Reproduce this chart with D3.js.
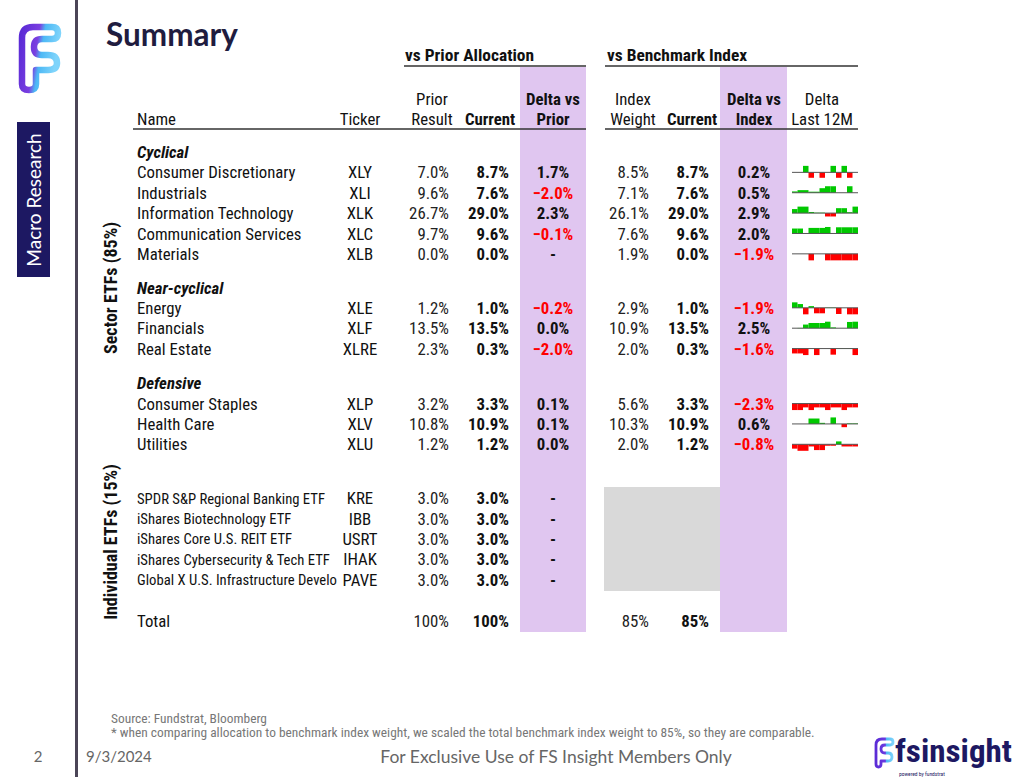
<!DOCTYPE html>
<html><head><meta charset="utf-8">
<script src="https://cdn.jsdelivr.net/npm/d3@7/dist/d3.min.js"></script>
<style>
html,body{margin:0;padding:0;background:#fff;}
svg{display:block;}
</style></head>
<body>
<svg id="chart" width="1024" height="777"></svg>
<script>
// ---------------- DATA ----------------
const groupNames = ["Cyclical", "Near-cyclical", "Defensive"];
const sectorNames = ["Consumer Discretionary","Industrials","Information Technology","Communication Services","Materials","Energy","Financials","Real Estate","Consumer Staples","Health Care","Utilities"];
const sectorTickers = ["XLY","XLI","XLK","XLC","XLB","XLE","XLF","XLRE","XLP","XLV","XLU"];
const priorResult = [7.0, 9.6, 26.7, 9.7, 0.0, 1.2, 13.5, 2.3, 3.2, 10.8, 1.2];
const currentAlloc = [8.7, 7.6, 29.0, 9.6, 0.0, 1.0, 13.5, 0.3, 3.3, 10.9, 1.2];
const deltaVsPrior = [1.7, -2.0, 2.3, -0.1, null, -0.2, 0.0, -2.0, 0.1, 0.1, 0.0];
const indexWeight = [8.5, 7.1, 26.1, 7.6, 1.9, 2.9, 10.9, 2.0, 5.6, 10.3, 2.0];
const currentVsIndex = [8.7, 7.6, 29.0, 9.6, 0.0, 1.0, 13.5, 0.3, 3.3, 10.9, 1.2];
const deltaVsIndex = [0.2, 0.5, 2.9, 2.0, -1.9, -1.9, 2.5, -1.6, -2.3, 0.6, -0.8];

const etfNames = ["SPDR S&P Regional Banking ETF","iShares Biotechnology ETF","iShares Core U.S. REIT ETF","iShares Cybersecurity & Tech ETF","Global X U.S. Infrastructure Develo"];
const etfTickers = ["KRE","IBB","USRT","IHAK","PAVE"];
const etfPrior = [3.0, 3.0, 3.0, 3.0, 3.0];
const etfCurrent = [3.0, 3.0, 3.0, 3.0, 3.0];

const totalLabels = ["100%","100%","85%","85%"];

// Delta vs index, last 12 months (monthly, pct pts) — read from sparklines
const sparkXLY = [0, 0, 0.3, -0.25, 0, -0.25, 0, 0.3, -0.25, 0.3, -0.25, 0];
const sparkXLI = [0.1, 0.2, 0.2, 0.08, 0.08, 0.35, 0.5, 0.5, 0, 0, 0.5, 0];
const sparkXLK = [1.8, 2.9, 2.9, 0.5, 0.2, 0.2, -1.5, -1.5, 2.2, 2.2, 0.4, 2.9];
const sparkXLC = [1.6, 1.6, 0, 1.8, 1.8, 1.8, 2.1, 0, 2.0, 2.0, 2.0, 2.0];
const sparkXLB = [0, 0, 0, -1.9, 0, 0, -1.9, -1.9, -1.9, -1.9, -1.9, -1.9];
const sparkXLE = [1.6, 1.1, -1.9, 0.5, -1.6, -1.6, 0.1, 0.1, -1.8, 0, -1.9, -1.9];
const sparkXLF = [0, 0.1, 1.4, 2.0, 2.0, 2.0, 2.5, 0.3, 0, 0, 2.4, 2.5];
const sparkXLRE = [-1.2, -1.2, -1.6, 0, -1.6, 0, 0, -1.5, 0.1, 0.1, 0.1, -1.6];
const sparkXLP = [-3.9, -3.9, -2.3, -3.9, -2.3, -2.3, -3.9, -2.3, -2.3, -3.9, -2.3, -2.3];
const sparkXLV = [0, 0, 0, 0.5, 0.5, 0.1, 0, 0.6, 0, -0.3, 0.05, 0.05];
const sparkXLU = [-0.6, -0.9, -0.9, -0.3, -0.8, -0.8, -0.2, -0.2, 0.4, -0.3, -0.3, -0.3];
const sparkSeries = [sparkXLY, sparkXLI, sparkXLK, sparkXLC, sparkXLB, sparkXLE, sparkXLF, sparkXLRE, sparkXLP, sparkXLV, sparkXLU];
const months = ["M1","M2","M3","M4","M5","M6","M7","M8","M9","M10","M11","M12"];

// ---------------- LAYOUT ----------------
const svg = d3.select("#chart");
const NARROW = "'Liberation Sans Narrow','Arial Narrow','Roboto Condensed',sans-serif";
const LATO = "Lato, 'Open Sans', sans-serif";
const FS = 16.8;

const groupSlots = [0, 6.65, 11.35];
const sectorSlots = [1,2,3,4,5, 7.65,8.65,9.65, 12.35,13.35,14.35];
const etfSlots = [17,18,19,20,21];
const totalSlot = 23;
const y = d3.scaleLinear().domain([0, 23]).range([152, 620.5]);

const col = {name:137, ticker:360, prior:449, cur:509, dPrior:553, idx:649, cur2:709, dIdx:754, spark:[792,858]};
const fmt = v => d3.format(".1f")(v) + "%";

// sidebar
svg.append("rect").attr("x",75).attr("y",0).attr("width",3).attr("height",777).attr("fill","#4b4557");

// top-left logo
const defs = svg.append("defs");
const lg = defs.append("linearGradient").attr("id","lg").attr("x1","0").attr("y1","0").attr("x2","1").attr("y2","0.3");
lg.append("stop").attr("offset","0%").attr("stop-color","#5b2bd6");
lg.append("stop").attr("offset","45%").attr("stop-color","#7a3fe0");
lg.append("stop").attr("offset","60%").attr("stop-color","#4cb8f5");
lg.append("stop").attr("offset","100%").attr("stop-color","#7fd4fb");
svg.append("path")
  .attr("d","M22,84 L22,38 Q22,27 33,27 L52,27 Q58,27 58,33 Q58,39 52,39 L42,39 Q34,39 34,47 Q34,55 42,55 L48,55 Q57,55 57,63 Q57,70 48,70 L36,70 L36,84 Q36,90 29,90 Q22,90 22,84 Z")
  .attr("fill","none").attr("stroke","url(#lg)").attr("stroke-width",6.5).attr("stroke-linejoin","round");

// Macro Research box
svg.append("rect").attr("x",17).attr("y",122).attr("width",33).attr("height",155).attr("fill","#1d1862");
svg.append("text").attr("transform","translate(41,200) rotate(-90)").attr("text-anchor","middle")
  .attr("font-family",LATO).attr("font-size",19).attr("fill","#fff").text("Macro Research");

// Title
svg.append("text").attr("x",106).attr("y",46).attr("font-family",LATO).attr("font-weight",700)
  .attr("font-size",31.5).attr("fill","#1f1c3f").text("Summary");

// purple bands
[[520,586],[720,787]].forEach(b=>{
  svg.append("rect").attr("x",b[0]).attr("y",67).attr("width",b[1]-b[0]).attr("height",565).attr("fill","#e0c6f0");
});
// gray box
svg.append("rect").attr("x",604).attr("y",487).attr("width",116).attr("height",104).attr("fill","#d9d9d9");

const T = (x,yy,txt,opts={}) => svg.append("text").attr("x",x).attr("y",yy).attr("dy","0.36em")
  .attr("font-family",NARROW).attr("font-size",opts.size||FS).attr("font-weight",opts.bold?700:400)
  .attr("font-style",opts.italic?"italic":"normal").attr("text-anchor",opts.anchor||"start")
  .attr("fill",opts.fill||"#111").text(txt);

// group headers
T(405,55,"vs Prior Allocation",{bold:true,size:17.4});
T(607,55,"vs Benchmark Index",{bold:true,size:17.4});
svg.append("line").attr("x1",404).attr("x2",586).attr("y1",66).attr("y2",66).attr("stroke","#333").attr("stroke-width",1.5);
svg.append("line").attr("x1",605).attr("x2",858).attr("y1",66).attr("y2",66).attr("stroke","#333").attr("stroke-width",1.5);

// column headers
const h1 = 99, h2 = 119;
T(col.name,h2,"Name");
T(col.ticker,h2,"Ticker",{anchor:"middle"});
T(432,h1,"Prior",{anchor:"middle"}); T(432,h2,"Result",{anchor:"middle"});
T(490,h2,"Current",{anchor:"middle",bold:true});
T(553,h1,"Delta vs",{anchor:"middle",bold:true}); T(553,h2,"Prior",{anchor:"middle",bold:true});
T(633,h1,"Index",{anchor:"middle"}); T(633,h2,"Weight",{anchor:"middle"});
T(692,h2,"Current",{anchor:"middle",bold:true});
T(754,h1,"Delta vs",{anchor:"middle",bold:true}); T(754,h2,"Index",{anchor:"middle",bold:true});
T(822,h1,"Delta",{anchor:"middle"}); T(822,h2,"Last 12M",{anchor:"middle"});
svg.append("line").attr("x1",133).attr("x2",586).attr("y1",129).attr("y2",129).attr("stroke","#333").attr("stroke-width",1.5);
svg.append("line").attr("x1",605).attr("x2",858).attr("y1",129).attr("y2",129).attr("stroke","#333").attr("stroke-width",1.5);

// rotated section labels
svg.append("text").attr("transform","translate(117,288) rotate(-90)").attr("text-anchor","middle")
  .attr("font-family",NARROW).attr("font-weight",700).attr("font-size",18).attr("fill","#111").text("Sector ETFs (85%)");
svg.append("text").attr("transform","translate(117,542) rotate(-90)").attr("text-anchor","middle")
  .attr("font-family",NARROW).attr("font-weight",700).attr("font-size",18).attr("fill","#111").text("Individual ETFs (15%)");

// group labels
groupNames.forEach((g,i)=>T(col.name,y(groupSlots[i]),g,{bold:true,italic:true}));

// sector rows
sectorNames.forEach((n,i)=>{
  const yy = y(sectorSlots[i]);
  T(col.name,yy,n);
  T(col.ticker,yy,sectorTickers[i],{anchor:"middle"});
  T(col.prior,yy,fmt(priorResult[i]),{anchor:"end",fill:"#222"});
  T(col.cur,yy,fmt(currentAlloc[i]),{anchor:"end",bold:true});
  const dp = deltaVsPrior[i];
  T(col.dPrior,yy,dp===null?"-":fmt(dp),{anchor:"middle",bold:true,fill:(dp!==null&&dp<0)?"#ff0000":"#111"});
  T(col.idx,yy,fmt(indexWeight[i]),{anchor:"end",fill:"#222"});
  T(col.cur2,yy,fmt(currentVsIndex[i]),{anchor:"end",bold:true});
  const di = deltaVsIndex[i];
  T(col.dIdx,yy,fmt(di),{anchor:"middle",bold:true,fill:di<0?"#ff0000":"#111"});
});

// ETF rows
etfNames.forEach((n,i)=>{
  const yy = y(etfSlots[i]);
  T(col.name,yy,n,{size:14.7});
  T(col.ticker,yy,etfTickers[i],{anchor:"middle"});
  T(col.prior,yy,fmt(etfPrior[i]),{anchor:"end",fill:"#222"});
  T(col.cur,yy,fmt(etfCurrent[i]),{anchor:"end",bold:true});
  T(col.dPrior,yy,"-",{anchor:"middle",bold:true});
});

// total
const ty = y(totalSlot);
T(col.name,ty,"Total");
T(col.prior,ty,totalLabels[0],{anchor:"end",fill:"#222"});
T(col.cur,ty,totalLabels[1],{anchor:"end",bold:true});
T(col.idx,ty,totalLabels[2],{anchor:"end",fill:"#222"});
T(col.cur2,ty,totalLabels[3],{anchor:"end",bold:true});

// sparklines
const sx = d3.scaleBand().domain(months).range(col.spark).padding(0);
sparkSeries.forEach((vals,i)=>{
  const cy = y(sectorSlots[i]);
  const m = d3.max(vals, v=>Math.abs(v));
  const sy = d3.scaleLinear().domain([-m,m]).range([cy+6.5,cy-6.5]);
  const g = svg.append("g");
  g.selectAll("rect").data(vals).join("rect")
    .attr("x",(d,j)=>sx(months[j]))
    .attr("width",sx.bandwidth())
    .attr("y",d=>Math.min(sy(d),sy(0)))
    .attr("height",d=>Math.abs(sy(d)-sy(0)))
    .attr("fill",d=>d>=0?"#00c800":"#ff0000");
  g.append("line").attr("x1",col.spark[0]).attr("x2",col.spark[1]).attr("y1",sy(0)).attr("y2",sy(0))
    .attr("stroke","#555").attr("stroke-width",1);
});

// footer
svg.append("text").attr("x",111).attr("y",723).attr("font-family",NARROW).attr("font-size",13.4).attr("fill","#777").text("Source: Fundstrat, Bloomberg");
svg.append("text").attr("x",111).attr("y",737).attr("font-family",NARROW).attr("font-size",13.4).attr("fill","#777")
  .text("* when comparing allocation to benchmark index weight, we scaled the total benchmark index weight to 85%, so they are comparable.");
svg.append("text").attr("x",38).attr("y",762).attr("text-anchor","middle").attr("font-family",LATO).attr("font-size",15).attr("fill","#666").text("2");
svg.append("text").attr("x",86).attr("y",762).attr("font-family",LATO).attr("font-size",15).attr("fill","#666").text("9/3/2024");
svg.append("text").attr("x",556).attr("y",763).attr("text-anchor","middle").attr("font-family",LATO).attr("font-size",17.5).attr("fill","#666")
  .text("For Exclusive Use of FS Insight Members Only");

// bottom-right logo
const lg2 = defs.append("linearGradient").attr("id","lg2").attr("x1","0").attr("y1","0").attr("x2","1").attr("y2","0");
lg2.append("stop").attr("offset","0%").attr("stop-color","#5b2bd6");
lg2.append("stop").attr("offset","55%").attr("stop-color","#6a3be0");
lg2.append("stop").attr("offset","60%").attr("stop-color","#4cb8f5");
lg2.append("stop").attr("offset","100%").attr("stop-color","#7fd4fb");
svg.append("path")
  .attr("d","M876,764 L876,745 Q876,739 882,739 L890,739 Q893,739 893,742 Q893,745 890,745 L885,745 Q881,745 881,749 Q881,753 885,753 L888,753 Q892,753 892,757 Q892,761 888,761 L881,761 L881,764 Q881,767 878.5,767 Q876,767 876,764 Z")
  .attr("fill","none").attr("stroke","url(#lg2)").attr("stroke-width",2.8).attr("stroke-linejoin","round");
svg.append("text").attr("x",895).attr("y",762).attr("font-family",NARROW).attr("font-weight",700).attr("font-size",32)
  .attr("textLength",117).attr("lengthAdjust","spacingAndGlyphs").attr("fill","#1d1862").text("fsinsight");
svg.append("text").attr("x",899).attr("y",776).attr("font-family",NARROW).attr("font-size",5.5).attr("fill","#1d1862").text("powered by fundstrat");
</script>
</body></html>
